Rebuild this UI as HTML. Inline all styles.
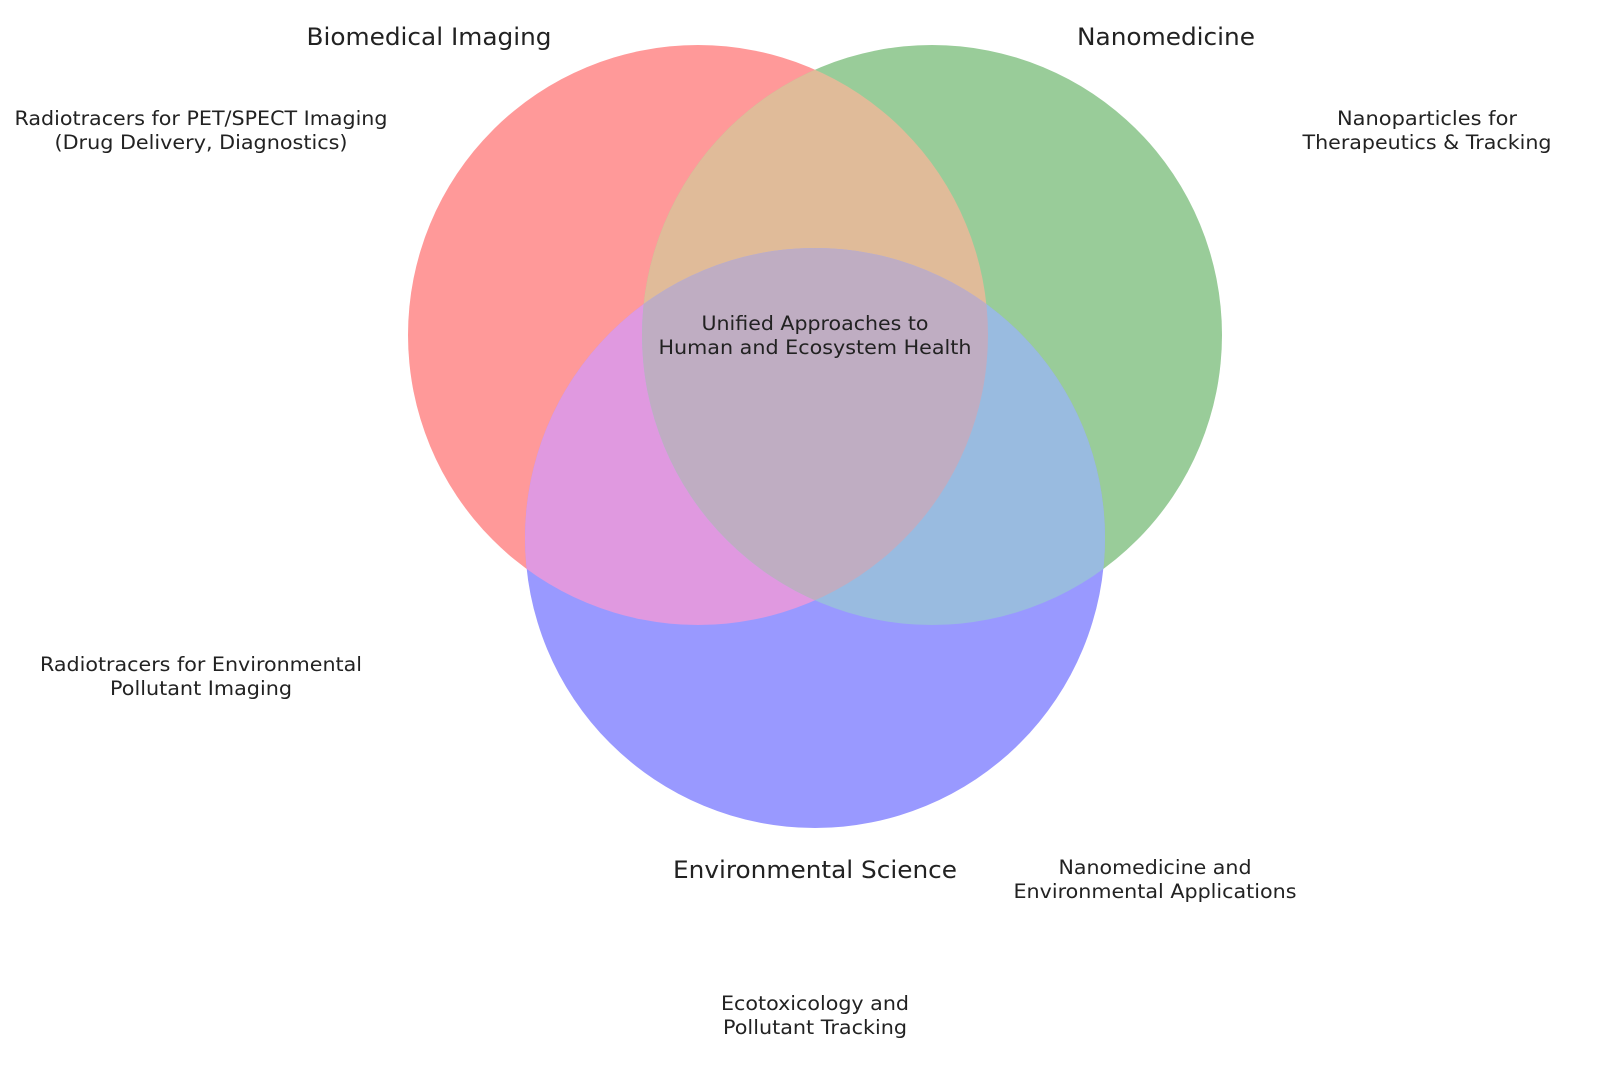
<!DOCTYPE html>
<html><head><meta charset="utf-8"><style>
html,body{margin:0;padding:0;background:#fff;}
svg{display:block;}
text{font-family:"DejaVu Sans","Liberation Sans",sans-serif;fill:#222;text-anchor:middle;}
.t{font-size:24px;}
.l{font-size:19.5px;}
</style></head><body>
<svg width="1600" height="1075" viewBox="0 0 1600 1075" xmlns="http://www.w3.org/2000/svg">
<defs>
<clipPath id="cr"><circle cx="698" cy="335" r="290"/></clipPath>
<clipPath id="cg"><circle cx="932" cy="335" r="290"/></clipPath>
<clipPath id="cb"><circle cx="815" cy="538" r="290"/></clipPath>
</defs>
<circle cx="698" cy="335" r="290" fill="#ff9999"/>
<circle cx="932" cy="335" r="290" fill="#99cc99"/>
<circle cx="815" cy="538" r="290" fill="#9999ff"/>
<g clip-path="url(#cr)">
<circle cx="932" cy="335" r="290" fill="#e0bb99"/>
<circle cx="815" cy="538" r="290" fill="#e099e0"/>
</g>
<g clip-path="url(#cg)">
<circle cx="815" cy="538" r="290" fill="#99bbe0"/>
</g>
<g clip-path="url(#cr)"><g clip-path="url(#cg)">
<circle cx="815" cy="538" r="290" fill="#bfadc2"/>
</g></g>
<text class="t" x="429" y="45" textLength="245" lengthAdjust="spacingAndGlyphs">Biomedical Imaging</text>
<text class="t" x="1166" y="45" textLength="178" lengthAdjust="spacingAndGlyphs">Nanomedicine</text>
<text class="t" x="815" y="878" textLength="284" lengthAdjust="spacingAndGlyphs">Environmental Science</text>
<text class="l" x="201" y="125" textLength="373" lengthAdjust="spacingAndGlyphs">Radiotracers for PET/SPECT Imaging</text>
<text class="l" x="201" y="149" textLength="293" lengthAdjust="spacingAndGlyphs">(Drug Delivery, Diagnostics)</text>
<text class="l" x="1427" y="125" textLength="180" lengthAdjust="spacingAndGlyphs">Nanoparticles for</text>
<text class="l" x="1427" y="149" textLength="249" lengthAdjust="spacingAndGlyphs">Therapeutics &amp; Tracking</text>
<text class="l" x="201" y="671" textLength="322" lengthAdjust="spacingAndGlyphs">Radiotracers for Environmental</text>
<text class="l" x="201" y="695" textLength="182" lengthAdjust="spacingAndGlyphs">Pollutant Imaging</text>
<text class="l" x="1155" y="874" textLength="193" lengthAdjust="spacingAndGlyphs">Nanomedicine and</text>
<text class="l" x="1155" y="898" textLength="283" lengthAdjust="spacingAndGlyphs">Environmental Applications</text>
<text class="l" x="815" y="1010" textLength="188" lengthAdjust="spacingAndGlyphs">Ecotoxicology and</text>
<text class="l" x="815" y="1034" textLength="184" lengthAdjust="spacingAndGlyphs">Pollutant Tracking</text>
<text class="l" x="815" y="330" textLength="227" lengthAdjust="spacingAndGlyphs">Unified Approaches to</text>
<text class="l" x="815" y="354" textLength="313" lengthAdjust="spacingAndGlyphs">Human and Ecosystem Health</text>
</svg>
</body></html>
